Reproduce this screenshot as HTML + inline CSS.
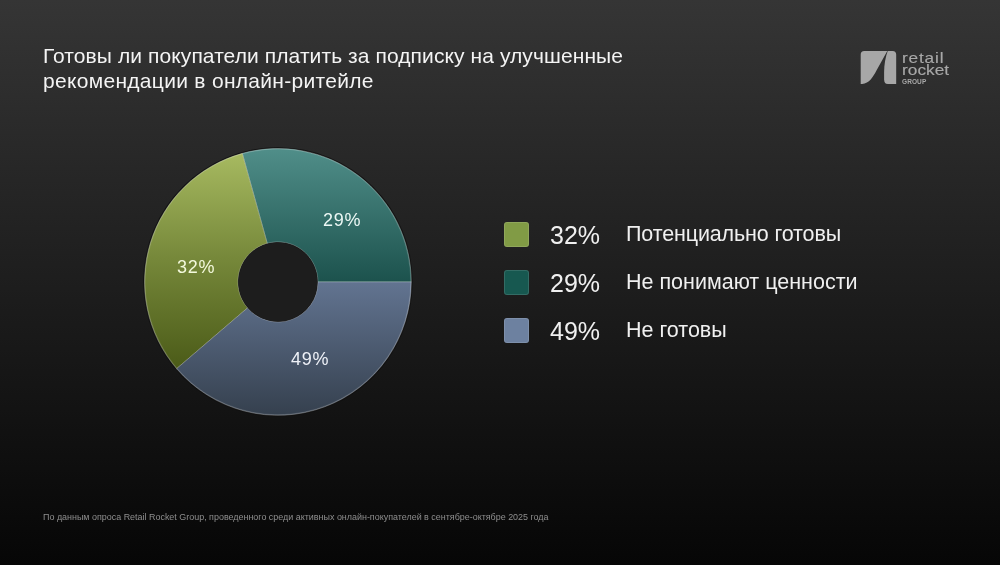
<!DOCTYPE html>
<html><head><meta charset="utf-8">
<style>
html,body{margin:0;padding:0;}
body{width:1000px;height:565px;overflow:hidden;position:relative;
background:linear-gradient(180deg,#353535 0%,#060606 100%);
font-family:"Liberation Sans",sans-serif;color:#f2f2f2;}
.t{position:absolute;white-space:nowrap;will-change:transform;}
#title{left:43.2px;top:43px;font-size:21px;line-height:25px;color:#f4f4f4;}
#foot{left:43px;top:511.5px;font-size:8.95px;color:#8e8e8e;}
.sq{position:absolute;width:25px;height:25px;border-radius:3px;box-shadow:inset 0 0 0 1px rgba(255,255,255,0.12);}
.pct{position:absolute;font-size:25px;color:#f0f0f0;}
.lab{position:absolute;font-size:21.5px;color:#f0f0f0;}
.pl{position:absolute;font-size:18px;letter-spacing:0.7px;color:#f4f4f4;}
svg{position:absolute;left:0;top:0;}
.lg{font-size:15px;line-height:15px;color:#a8a8a8;transform-origin:0 0;transform:scaleX(1.15);-webkit-text-stroke:0.15px #a8a8a8;}
</style></head><body>
<svg width="1000" height="565" viewBox="0 0 1000 565">
<defs>
<linearGradient id="gT" gradientUnits="userSpaceOnUse" x1="0" y1="148.5" x2="0" y2="282">
<stop offset="0" stop-color="#508e89"/><stop offset="1" stop-color="#1c524d"/></linearGradient>
<linearGradient id="gG" gradientUnits="userSpaceOnUse" x1="0" y1="148.5" x2="0" y2="368">
<stop offset="0" stop-color="#a9bc62"/><stop offset="0.5" stop-color="#76883a"/><stop offset="1" stop-color="#4b5b18"/></linearGradient>
<linearGradient id="gB" gradientUnits="userSpaceOnUse" x1="0" y1="282" x2="0" y2="415.3">
<stop offset="0" stop-color="#627491"/><stop offset="1" stop-color="#35404e"/></linearGradient>
</defs>
<circle cx="277.9" cy="281.9" r="134.7" fill="#101010"/>
<path fill="url(#gT)" stroke="rgba(255,255,255,0.26)" stroke-width="1" d="M411.30 281.90A133.4 133.4 0 0 0 242.25 153.35L267.21 243.35A40 40 0 0 1 317.90 281.90Z"/>
<path fill="url(#gG)" stroke="rgba(255,255,255,0.26)" stroke-width="1" d="M242.25 153.35A133.4 133.4 0 0 0 176.61 368.71L247.53 307.93A40 40 0 0 1 267.21 243.35Z"/>
<path fill="url(#gB)" stroke="rgba(255,255,255,0.26)" stroke-width="1" d="M176.61 368.71A133.4 133.4 0 0 0 411.30 281.90L317.90 281.90A40 40 0 0 1 247.53 307.93Z"/>
<circle cx="277.9" cy="281.9" r="132.9" fill="none" stroke="rgba(255,255,255,0.13)" stroke-width="1"/>
<circle cx="277.9" cy="281.9" r="39.5" fill="#1d1d1d"/>
<!-- logo icon -->
<g fill="#a7a7a7">
<path d="M860.7 54.5Q860.7 51 864.2 51L887.3 51L876.6 70.3C873.2 76.8 869.2 83.6 862.2 84L860.7 84Z"/>
<path d="M887.7 51L892.6 51Q896.2 51 896.2 54.8L896.2 84L887.8 84Q884.2 84 884.1 79.5L884.1 72.5C884.1 64.5 885.4 57.5 887.7 51Z"/>
</g>
</svg>

<div id="title" class="t"><span style="letter-spacing:0.09px">Готовы ли покупатели платить за подписку на улучшенные</span><br><span style="letter-spacing:0.3px">рекомендации в онлайн-ритейле</span></div>

<div class="t lg" id="lg1" style="left:902px;top:49.7px;letter-spacing:0.71px;">retail</div>
<div class="t lg" id="lg2" style="left:902px;top:62.4px;letter-spacing:0.03px;">rocket</div>
<div class="t" id="lg3" style="left:902.2px;top:79.2px;font-size:6.5px;line-height:6px;color:#a8a8a8;font-weight:bold;letter-spacing:0.1px;">GROUP</div>

<div class="pl t" style="left:322.8px;top:210px;color:#ecf8f5;">29%</div>
<div class="pl t" style="left:177px;top:257px;color:#f3f9dc;">32%</div>
<div class="pl t" style="left:290.5px;top:349px;color:#eef1f7;">49%</div>

<div class="sq" style="left:504px;top:222px;background:#819b45;"></div>
<div class="sq" style="left:504px;top:269.7px;background:#175850;"></div>
<div class="sq" style="left:504px;top:317.5px;background:#6d81a0;"></div>

<div class="pct t" style="left:549.5px;top:221px;">32%</div>
<div class="pct t" style="left:549.5px;top:269px;">29%</div>
<div class="pct t" style="left:549.5px;top:316.5px;">49%</div>

<div class="lab t" style="left:626px;top:222.4px;letter-spacing:-0.13px;">Потенциально готовы</div>
<div class="lab t" style="left:626px;top:270.4px;">Не понимают ценности</div>
<div class="lab t" style="left:626.2px;top:318px;">Не готовы</div>

<div id="foot" class="t">По данным опроса Retail Rocket Group, проведенного среди активных онлайн-покупателей в сентябре-октябре 2025 года</div>
</body></html>
